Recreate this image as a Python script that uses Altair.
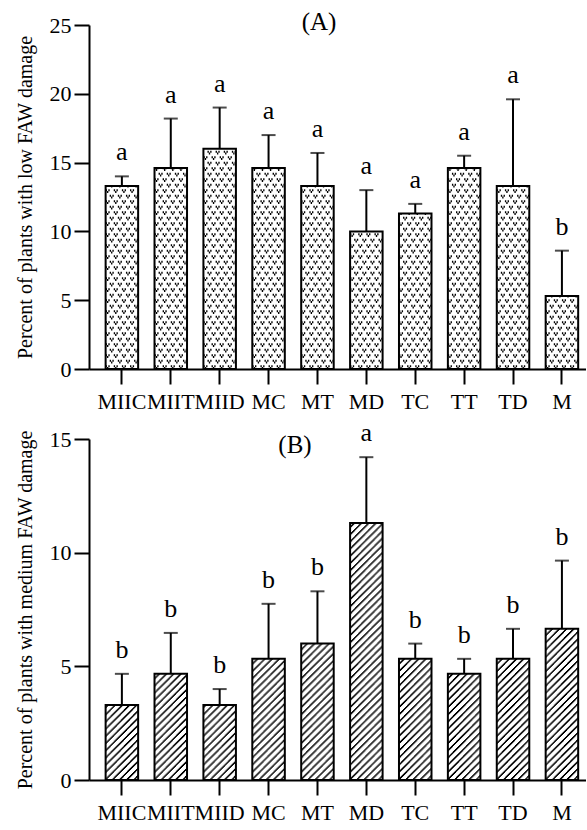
import altair as alt
import pandas as pd

cats = ["MIIC", "MIIT", "MIID", "MC", "MT", "MD", "TC", "TT", "TD", "M"]

low_mean = [13.3, 14.6, 16.0, 14.6, 13.3, 10.0, 11.3, 14.6, 13.3, 5.3]
low_err = [0.7, 3.6, 3.0, 2.4, 2.4, 3.0, 0.7, 0.9, 6.3, 3.3]
low_letters = ["a", "a", "a", "a", "a", "a", "a", "a", "a", "b"]

med_mean = [3.3, 4.67, 3.3, 5.33, 6.0, 11.3, 5.33, 4.67, 5.33, 6.65]
med_err = [1.37, 1.8, 0.7, 2.42, 2.3, 2.9, 0.67, 0.66, 1.32, 3.0]
med_letters = ["b", "b", "b", "b", "b", "a", "b", "b", "b", "b"]

FONT = "Liberation Serif"
W = 497
PI = 0.335
PO = 0.25
AL = 0.68
STEP = W / (len(cats) - PI + 2 * PO)
BW = STEP * (1 - PI)


def dot_dashes(n):
    P = 11.0
    d = 1.9
    out = []
    for c in range(n):
        m = c % 6
        pos = {0: 1.8, 1: 0.0, 2: 1.8, 3: 7.3, 4: 5.5, 5: 7.3}[m]
        if pos == 0:
            out.append([d, P - d])
        else:
            out.append([0, pos, d, P - d - pos])
    return out


def hatch_dashes(n, w):
    P = 7.2
    L = 2.2
    out = []
    for k in range(n):
        p = (k * w) % P
        if p + L <= P:
            out.append([0, p, L, P - L - p])
        else:
            a = p + L - P
            out.append([a, P - L, P - p, 0])
    return out


def panel(mean, err, letters, ymax, height, title, tx, ty, ytitle, kind):
    df = pd.DataFrame({"cat": cats, "mean": mean, "err": err, "letter": letters})
    df["top"] = df["mean"] + df["err"]

    if kind == "dots":
        n = 24
        dashes = dot_dashes(n)
    else:
        n = 32
        dashes = hatch_dashes(n, BW / n)
    cols = ["c%02d" % i for i in range(n)]
    pat = pd.DataFrame(
        [{"cat": c, "mean": m, "zero": 0.0, "col": k} for c, m in zip(cats, mean) for k in cols]
    )

    xscale = alt.Scale(paddingInner=PI, paddingOuter=PO, align=AL)
    xaxis = alt.Axis(title=None, labelAngle=0)
    x = alt.X("cat:N", sort=cats, scale=xscale, axis=xaxis)
    yscale = alt.Scale(domain=[0, ymax], nice=False)
    yaxis = alt.Axis(title=ytitle, values=list(range(0, ymax + 1, 5)))

    def Y(field):
        return alt.Y(field, scale=yscale, axis=yaxis, title=ytitle)

    base = alt.Chart(df)
    bars = base.mark_bar(fill="white", strokeWidth=0).encode(x=x, y=Y("mean:Q"))
    pattern = alt.Chart(pat).mark_rule(
        color="black", strokeWidth=BW / n * (1.0 if kind == "dots" else 1.08)
    ).encode(
        x=x,
        xOffset=alt.XOffset("col:N", sort=cols, scale=alt.Scale(paddingInner=0, paddingOuter=0)),
        y=Y("zero:Q"),
        y2="mean:Q",
        strokeDash=alt.StrokeDash("col:N", sort=cols, scale=alt.Scale(domain=cols, range=dashes), legend=None),
    )
    outline = base.mark_bar(fill="white", fillOpacity=0, stroke="black", strokeWidth=2).encode(
        x=x, y=Y("mean:Q")
    )
    errbar = base.mark_rule(color="black", strokeWidth=2).encode(
        x=x, y=Y("mean:Q"), y2="top:Q"
    )
    cap = base.mark_tick(color="black", size=14, thickness=2).encode(x=x, y=Y("top:Q"))
    lett = base.mark_text(font=FONT, fontSize=26, baseline="middle", dy=-24, color="black").encode(
        x=x, y=Y("top:Q"), text="letter:N"
    )
    ttl = alt.Chart(pd.DataFrame({"t": [title]})).mark_text(
        font=FONT, fontSize=25, baseline="middle", align="center", color="black"
    ).encode(text="t:N", x=alt.value(tx), y=alt.value(ty))

    return alt.layer(bars, pattern, outline, errbar, cap, lett, ttl).properties(
        width=W, height=height
    )


pa = panel(low_mean, low_err, low_letters, 25, 344, "(A)", 230, -3,
           "Percent of plants with low FAW damage", "dots")
pb = panel(med_mean, med_err, med_letters, 15, 341, "(B)", 206, 6,
           "Percent of plants with  medium FAW damage", "hatch")

chart = alt.vconcat(pa, pb, spacing=70, bounds="flush").resolve_scale(
    strokeDash="independent", xOffset="independent"
).properties(
    padding={"left": 15, "top": 10, "right": 0, "bottom": 0}
).configure_view(stroke=None).configure_axis(
    domainColor="black", domainWidth=2, tickColor="black", tickWidth=2, tickSize=15,
    labelFont=FONT, labelFontSize=22, labelColor="black", labelPadding=3,
    titleFont=FONT, titleFontSize=20, titleFontWeight="normal", titleColor="black",
    titlePadding=14, grid=False,
).configure_axisX(labelPadding=7)

chart.save("out.html", embed_options={"renderer": "svg", "actions": False})
